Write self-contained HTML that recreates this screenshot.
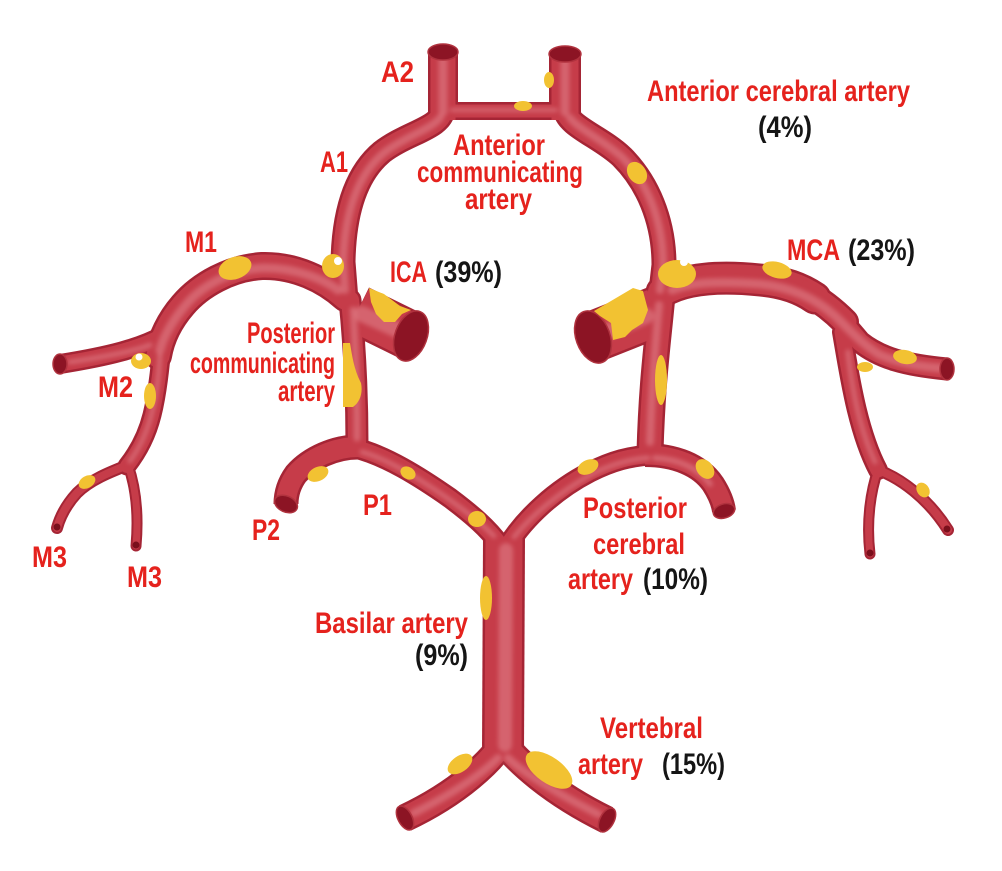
<!DOCTYPE html>
<html>
<head>
<meta charset="utf-8">
<style>
  html, body { margin: 0; padding: 0; background: #ffffff; }
  svg { display: block; }
  .t { font-family: "Liberation Sans Narrow", "Liberation Sans", sans-serif; font-weight: bold; font-size: 30px; }
  .r { fill: #e5221d; }
  .k { fill: #151515; }
</style>
</head>
<body>
<svg width="1002" height="871" viewBox="0 0 1002 871" xmlns="http://www.w3.org/2000/svg">
  <defs>
    <filter id="bl" x="-10%" y="-10%" width="120%" height="120%">
      <feGaussianBlur stdDeviation="2.2"/>
    </filter>
  </defs>
  <rect width="1002" height="871" fill="#ffffff"/>

  <!-- EDGE LAYER -->
  <g fill="none" stroke="#a52535" stroke-linecap="round" stroke-linejoin="round">
    <path d="M443,52 L443,120" stroke-width="30" stroke-linecap="butt"/>
    <path d="M565,54 L565,120" stroke-width="32" stroke-linecap="butt"/>
    <path d="M445,111 L563,111" stroke-width="18"/>
    <path d="M443,108 C443,128 408,132 382,152 C358,172 344,208 343,262 L346,300" stroke-width="25"/>
    <path d="M565,108 C566,126 600,136 622,157 C647,182 664,220 664,265 L660,300" stroke-width="25"/>
    <path d="M345,298 C325,280 295,265 262,266 C230,268 200,285 183,305 C170,320 161,338 158,356" stroke-width="28"/>
    <path d="M162,336 C140,348 110,356 60,364" stroke-width="20" stroke-linecap="butt"/>
    <path d="M162,345 C160,370 157,395 152,415 C147,435 138,452 127,466" stroke-width="19"/>
    <path d="M128,465 C110,472 90,480 77,493 C66,505 60,517 57,528" stroke-width="12"/>
    <path d="M128,465 C135,485 139,512 136,546" stroke-width="11"/>
    <path d="M358,310 L411,336" stroke-width="50" stroke-linecap="butt"/>
    <path d="M350,300 C354,340 357,390 357,445" stroke-width="23"/>
    <path d="M358,447 C335,447 310,458 296,474 C288,485 286,495 286,504" stroke-width="25" stroke-linecap="butt"/>
    <path d="M355,448 C385,455 420,477 450,498 C470,513 488,528 500,545" stroke-width="21"/>
    <path d="M508,545 C525,518 555,490 590,472 C612,461 630,456 652,455" stroke-width="21"/>
    <path d="M645,455 C675,455 700,465 713,484 C720,495 723,503 724,511" stroke-width="24" stroke-linecap="butt"/>
    <path d="M662,295 C658,340 652,380 650,452" stroke-width="27"/>
    <path d="M656,312 L593,337" stroke-width="52" stroke-linecap="butt"/>
    <path d="M662,292 C685,278 720,276 760,280 C785,282 802,289 815,298" stroke-width="33"/>
    <path d="M770,281 C800,285 825,302 845,322" stroke-width="28"/>
    <path d="M800,288 C825,300 845,324 860,342 C880,358 905,365 947,369" stroke-width="23" stroke-linecap="butt"/>
    <path d="M842,332 C849,372 857,430 878,470" stroke-width="20"/>
    <path d="M878,470 C871,490 866,520 870,554" stroke-width="11"/>
    <path d="M878,470 C900,478 928,498 948,530" stroke-width="12"/>
    <path d="M504,538 L503,752" stroke-width="42" stroke-linecap="butt"/>
    <path d="M503,742 C492,760 460,792 405,818" stroke-width="28" stroke-linecap="butt"/>
    <path d="M503,742 C516,760 550,792 607,820" stroke-width="28" stroke-linecap="butt"/>
  </g>

  <!-- BODY LAYER -->
  <g fill="none" stroke="#c63c49" stroke-linecap="round" stroke-linejoin="round">
    <path d="M443,52 L443,120" stroke-width="25" stroke-linecap="butt"/>
    <path d="M565,54 L565,120" stroke-width="27" stroke-linecap="butt"/>
    <path d="M445,111 L563,111" stroke-width="13"/>
    <path d="M443,108 C443,128 408,132 382,152 C358,172 344,208 343,262 L346,300" stroke-width="20"/>
    <path d="M565,108 C566,126 600,136 622,157 C647,182 664,220 664,265 L660,300" stroke-width="20"/>
    <path d="M345,298 C325,280 295,265 262,266 C230,268 200,285 183,305 C170,320 161,338 158,356" stroke-width="23"/>
    <path d="M162,336 C140,348 110,356 60,364" stroke-width="15" stroke-linecap="butt"/>
    <path d="M162,345 C160,370 157,395 152,415 C147,435 138,452 127,466" stroke-width="14"/>
    <path d="M128,465 C110,472 90,480 77,493 C66,505 60,517 57,528" stroke-width="8"/>
    <path d="M128,465 C135,485 139,512 136,546" stroke-width="7"/>
    <path d="M358,310 L411,336" stroke-width="45" stroke-linecap="butt"/>
    <path d="M350,300 C354,340 357,390 357,445" stroke-width="18"/>
    <path d="M358,447 C335,447 310,458 296,474 C288,485 286,495 286,504" stroke-width="20" stroke-linecap="butt"/>
    <path d="M355,448 C385,455 420,477 450,498 C470,513 488,528 500,545" stroke-width="16"/>
    <path d="M508,545 C525,518 555,490 590,472 C612,461 630,456 652,455" stroke-width="16"/>
    <path d="M645,455 C675,455 700,465 713,484 C720,495 723,503 724,511" stroke-width="19" stroke-linecap="butt"/>
    <path d="M662,295 C658,340 652,380 650,452" stroke-width="22"/>
    <path d="M656,312 L593,337" stroke-width="47" stroke-linecap="butt"/>
    <path d="M662,292 C685,278 720,276 760,280 C785,282 802,289 815,298" stroke-width="28"/>
    <path d="M770,281 C800,285 825,302 845,322" stroke-width="23"/>
    <path d="M800,288 C825,300 845,324 860,342 C880,358 905,365 947,369" stroke-width="18" stroke-linecap="butt"/>
    <path d="M842,332 C849,372 857,430 878,470" stroke-width="15"/>
    <path d="M878,470 C871,490 866,520 870,554" stroke-width="7"/>
    <path d="M878,470 C900,478 928,498 948,530" stroke-width="8"/>
    <path d="M504,538 L503,752" stroke-width="37" stroke-linecap="butt"/>
    <path d="M503,742 C492,760 460,792 405,818" stroke-width="23" stroke-linecap="butt"/>
    <path d="M503,742 C516,760 550,792 607,820" stroke-width="23" stroke-linecap="butt"/>
  </g>

  <!-- HIGHLIGHT LAYER (soft) -->
  <g fill="none" stroke="#e2848c" stroke-opacity="0.55" stroke-linecap="round" stroke-linejoin="round" filter="url(#bl)">
    <path d="M443,60 L443,112" stroke-width="9"/>
    <path d="M565,62 L565,112" stroke-width="9"/>
    <path d="M452,110 L556,110" stroke-width="4"/>
    <path d="M440,118 C430,130 408,135 385,152 C360,172 345,208 343,262 L345,290" stroke-width="8"/>
    <path d="M570,118 C580,130 600,138 622,157 C647,182 663,220 663,265 L660,290" stroke-width="8"/>
    <path d="M338,290 C325,280 295,267 262,268 C230,270 200,287 185,306 C172,321 163,338 160,350" stroke-width="9"/>
    <path d="M150,345 C135,351 110,356 70,362" stroke-width="5"/>
    <path d="M160,355 C159,375 156,398 151,416 C146,435 138,450 130,461" stroke-width="5"/>
    <path d="M362,314 L402,332" stroke-width="16"/>
    <path d="M353,310 C355,340 357,390 357,438" stroke-width="7"/>
    <path d="M362,452 C388,459 420,479 450,500 C468,513 482,524 494,536" stroke-width="5"/>
    <path d="M514,537 C530,517 557,494 590,475 C612,464 630,459 648,458" stroke-width="5"/>
    <path d="M655,458 C678,459 698,468 710,484" stroke-width="6"/>
    <path d="M659,305 C656,340 652,380 650,442" stroke-width="8"/>
    <path d="M646,316 L604,333" stroke-width="16"/>
    <path d="M672,290 C692,282 720,281 760,284 C790,287 815,298 835,316 C850,330 862,344 880,355 C900,363 915,366 940,368" stroke-width="9"/>
    <path d="M848,352 C852,390 860,430 875,462" stroke-width="5"/>
    <path d="M506,550 L505,745" stroke-width="14"/>
    <path d="M498,758 C486,770 460,790 414,813" stroke-width="8"/>
    <path d="M508,758 C520,770 550,790 598,814" stroke-width="8"/>
  </g>

  <!-- OPENINGS -->
  <g fill="#8c1424" stroke="#b0323e" stroke-width="1.5">
    <ellipse cx="443" cy="52" rx="15" ry="8"/>
    <ellipse cx="565" cy="54" rx="16" ry="8"/>
    <ellipse cx="60" cy="364" rx="7" ry="10"/>
    <ellipse cx="411" cy="336" rx="16" ry="26" transform="rotate(20 411 336)"/>
    <ellipse cx="593" cy="337" rx="17" ry="27" transform="rotate(-20 593 337)"/>
    <ellipse cx="286" cy="504" rx="12" ry="8" transform="rotate(24 286 504)"/>
    <ellipse cx="724" cy="511" rx="11" ry="7" transform="rotate(-17 724 511)"/>
    <ellipse cx="947" cy="369" rx="7" ry="11"/>
    <ellipse cx="405" cy="818" rx="7" ry="13" transform="rotate(-28 405 818)"/>
    <ellipse cx="607" cy="820" rx="7" ry="13" transform="rotate(28 607 820)"/>
  </g>
  <g fill="#7a0f1c">
    <circle cx="57" cy="527" r="3.5"/>
    <circle cx="136" cy="545" r="3.5"/>
    <circle cx="870" cy="553" r="3.5"/>
    <circle cx="947" cy="529" r="3.5"/>
  </g>

  <!-- YELLOW SPOTS -->
  <g fill="#f2c232">
    <ellipse cx="549" cy="80" rx="5" ry="8"/>
    <ellipse cx="523" cy="106" rx="9" ry="5"/>
    <ellipse cx="637" cy="173" rx="9" ry="12" transform="rotate(-35 637 173)"/>
    <ellipse cx="333" cy="266" rx="11" ry="12"/>
    <polygon points="369,288 384,294 400,306 411,310 402,314 395,322 384,322 376,314 371,302"/>
    <path d="M343,343 L350,343 C352,355 354,370 361,383 C363,393 360,402 353,407 L343,407 Z"/>
    <polygon points="594,311 633,288 643,291 648,310 643,323 632,330 625,337 613,340 611,323 600,316"/>
    <ellipse cx="677" cy="274" rx="19" ry="14"/>
    <ellipse cx="661" cy="380" rx="6" ry="25"/>
    <ellipse cx="777" cy="270" rx="15" ry="8" transform="rotate(15 777 270)"/>
    <ellipse cx="905" cy="357" rx="12" ry="7" transform="rotate(10 905 357)"/>
    <ellipse cx="865" cy="367" rx="8" ry="5"/>
    <ellipse cx="923" cy="490" rx="6" ry="8" transform="rotate(-35 923 490)"/>
    <ellipse cx="588" cy="467" rx="11" ry="7" transform="rotate(-25 588 467)"/>
    <ellipse cx="705" cy="469" rx="8" ry="11" transform="rotate(-40 705 469)"/>
    <ellipse cx="235" cy="268" rx="17" ry="11" transform="rotate(-20 235 268)"/>
    <ellipse cx="141" cy="361" rx="10" ry="8"/>
    <ellipse cx="150" cy="396" rx="6" ry="13"/>
    <ellipse cx="87" cy="482" rx="9" ry="6" transform="rotate(-30 87 482)"/>
    <ellipse cx="318" cy="474" rx="11" ry="7" transform="rotate(-25 318 474)"/>
    <ellipse cx="408" cy="473" rx="8" ry="6" transform="rotate(30 408 473)"/>
    <ellipse cx="477" cy="519" rx="9" ry="8"/>
    <ellipse cx="486" cy="598" rx="6" ry="22"/>
    <ellipse cx="460" cy="764" rx="14" ry="8" transform="rotate(-35 460 764)"/>
    <ellipse cx="549" cy="770" rx="27" ry="13" transform="rotate(35 549 770)"/>
  </g>
  <g fill="#ffffff">
    <circle cx="338" cy="261" r="4"/>
    <circle cx="684" cy="262" r="4"/>
    <circle cx="139" cy="357" r="3.5"/>
  </g>

  <!-- LABELS -->
  <g class="t">
    <text class="r" x="381" y="82" textLength="33" lengthAdjust="spacingAndGlyphs">A2</text>
    <text class="r" x="320" y="172" textLength="28" lengthAdjust="spacingAndGlyphs">A1</text>
    <text class="r" x="453" y="155" textLength="92" lengthAdjust="spacingAndGlyphs">Anterior</text>
    <text class="r" x="417" y="182" textLength="166" lengthAdjust="spacingAndGlyphs">communicating</text>
    <text class="r" x="465" y="209" textLength="67" lengthAdjust="spacingAndGlyphs">artery</text>
    <text class="r" x="390" y="282" textLength="37" lengthAdjust="spacingAndGlyphs">ICA</text>
    <text class="k" x="435" y="282" textLength="67" lengthAdjust="spacingAndGlyphs">(39%)</text>
    <text class="r" x="647" y="101" textLength="263" lengthAdjust="spacingAndGlyphs">Anterior cerebral artery</text>
    <text class="k" x="758" y="137" textLength="54" lengthAdjust="spacingAndGlyphs">(4%)</text>
    <text class="r" x="185" y="252" textLength="32" lengthAdjust="spacingAndGlyphs">M1</text>
    <text class="r" x="247" y="343" textLength="88" lengthAdjust="spacingAndGlyphs">Posterior</text>
    <text class="r" x="190" y="373" textLength="145" lengthAdjust="spacingAndGlyphs">communicating</text>
    <text class="r" x="278" y="401" textLength="57" lengthAdjust="spacingAndGlyphs">artery</text>
    <text class="r" x="98" y="397" textLength="35" lengthAdjust="spacingAndGlyphs">M2</text>
    <text class="r" x="32" y="567" textLength="35" lengthAdjust="spacingAndGlyphs">M3</text>
    <text class="r" x="127" y="587" textLength="35" lengthAdjust="spacingAndGlyphs">M3</text>
    <text class="r" x="252" y="540" textLength="28" lengthAdjust="spacingAndGlyphs">P2</text>
    <text class="r" x="363" y="515" textLength="29" lengthAdjust="spacingAndGlyphs">P1</text>
    <text class="r" x="787" y="260" textLength="53" lengthAdjust="spacingAndGlyphs">MCA</text>
    <text class="k" x="848" y="260" textLength="67" lengthAdjust="spacingAndGlyphs">(23%)</text>
    <text class="r" x="583" y="518" textLength="104" lengthAdjust="spacingAndGlyphs">Posterior</text>
    <text class="r" x="593" y="554" textLength="92" lengthAdjust="spacingAndGlyphs">cerebral</text>
    <text class="r" x="568" y="589" textLength="65" lengthAdjust="spacingAndGlyphs">artery</text>
    <text class="k" x="643" y="589" textLength="65" lengthAdjust="spacingAndGlyphs">(10%)</text>
    <text class="r" x="315" y="633" textLength="153" lengthAdjust="spacingAndGlyphs">Basilar artery</text>
    <text class="k" x="415" y="665" textLength="53" lengthAdjust="spacingAndGlyphs">(9%)</text>
    <text class="r" x="600" y="738" textLength="103" lengthAdjust="spacingAndGlyphs">Vertebral</text>
    <text class="r" x="578" y="774" textLength="65" lengthAdjust="spacingAndGlyphs">artery</text>
    <text class="k" x="662" y="774" textLength="63" lengthAdjust="spacingAndGlyphs">(15%)</text>
  </g>
</svg>
</body>
</html>
